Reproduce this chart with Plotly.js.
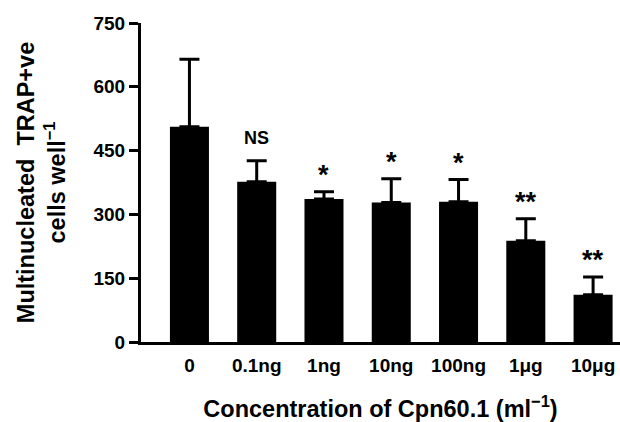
<!DOCTYPE html>
<html><head><meta charset="utf-8">
<script src="https://cdn.plot.ly/plotly-3.0.1.min.js"></script>
<style>html,body{margin:0;padding:0;background:#fff}</style>
</head><body><div id="chart" style="width:620px;height:422px"></div>
<script>
const categories = ["0", "0.1ng", "1ng", "10ng", "100ng", "1μg", "10μg"];
const means = [506, 377, 336, 328, 330, 238, 111];
const sem = [159, 49, 17, 56, 52, 52, 42];
const sigLabels = ["", "NS", "*", "*", "*", "**", "**"];
const yTicks = [0, 150, 300, 450, 600, 750];

const FONT = "Arial, 'Liberation Sans', sans-serif";

const trace = {
  type: "bar",
  x: categories,
  y: means,
  width: 0.58,
  marker: {color: "#000", line: {width: 0}},
  error_y: {
    type: "data", symmetric: false,
    array: sem, arrayminus: sem.map(() => 0),
    color: "#000", thickness: 3, width: 10
  },
  hoverinfo: "none"
};

const annotations = [];
categories.forEach((c, i) => {
  if (!sigLabels[i]) return;
  const isNS = sigLabels[i] === "NS";
  annotations.push({
    x: c, y: means[i] + sem[i], xref: "x", yref: "y",
    text: sigLabels[i], showarrow: false,
    yanchor: "bottom",
    yshift: isNS ? 11 : 0,
    font: {family: FONT, size: isNS ? 18 : 27, color: "#000", weight: "bold"}
  });
});

const layout = {
  width: 620, height: 422,
  margin: {l: 141, r: 0, t: 23, b: 80},
  paper_bgcolor: "#fff", plot_bgcolor: "#fff",
  showlegend: false,
  font: {family: FONT, color: "#000", size: 19, weight: "bold"},
  xaxis: {
    type: "category",
    range: [-0.72, 6.40],
    showline: true, linecolor: "#000", linewidth: 3,
    ticks: "", showgrid: false, zeroline: false,
    ticklabelstandoff: 4,
    tickfont: {family: FONT, size: 19, color: "#000", weight: "bold"},
    title: {text: "Concentration of Cpn60.1 (ml<sup>−1</sup>)", standoff: 26,
            font: {family: FONT, size: 23.5, color: "#000", weight: "bold"}}
  },
  yaxis: {
    range: [0, 750],
    tickvals: yTicks,
    showline: true, linecolor: "#000", linewidth: 3,
    ticks: "outside", ticklen: 9, tickwidth: 3, tickcolor: "#000",
    showgrid: false, zeroline: false,
    tickfont: {family: FONT, size: 19, color: "#000", weight: "bold"},
    title: {text: "Multinucleated  TRAP+ve<br>cells well<sup>−1</sup>", standoff: 22,
            font: {family: FONT, size: 23.5, color: "#000", weight: "bold"}}
  },
  annotations: annotations
};

Plotly.newPlot("chart", [trace], layout, {staticPlot: true, displayModeBar: false});
</script>
</body></html>
